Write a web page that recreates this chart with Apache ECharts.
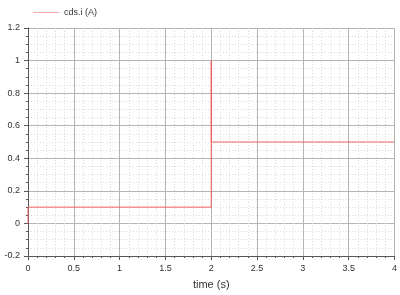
<!DOCTYPE html>
<html><head><meta charset="utf-8">
<script src="https://cdn.jsdelivr.net/npm/echarts@6/dist/echarts.min.js"></script>
<style>html,body{margin:0;padding:0;background:#fff}#c{width:400px;height:295px}</style>
</head><body><div id="c"></div>
<script>
var seriesName = 'cds.i (A)';
var timeValues = [0, 0, 2, 2, 2, 4];
var currentValues = [0, 0.1, 0.1, 1, 0.5, 0.5];
var xTicks = [0, 0.5, 1, 1.5, 2, 2.5, 3, 3.5, 4];
var yTicks = [-0.2, 0, 0.2, 0.4, 0.6, 0.8, 1, 1.2];
var xTitle = 'time (s)';

var data = timeValues.map(function (t, i) { return [t, currentValues[i]]; });
var chart = echarts.init(document.getElementById('c'), null, {renderer: 'canvas'});
var font = 'Liberation Sans, Arial, sans-serif';
chart.setOption({
  animation: false,
  textStyle: {fontFamily: font},
  legend: {
    left: 28, top: 3, itemWidth: 26, itemHeight: 2, itemGap: 5,
    icon: 'path://M0,0L26,0L26,1L0,1Z',
    textStyle: {fontSize: 9, color: '#333', fontFamily: font},
    data: [seriesName]
  },
  grid: {left: 28, right: 5, top: 28, bottom: 36, containLabel: false},
  xAxis: {
    type: 'value', min: xTicks[0], max: xTicks[xTicks.length - 1], interval: 0.5,
    name: xTitle, nameLocation: 'middle', nameGap: 23,
    nameTextStyle: {fontSize: 11, color: '#333', fontFamily: font},
    axisLine: {show: true, onZero: false, lineStyle: {color: '#555', width: 1}},
    axisTick: {show: true, length: 4, lineStyle: {color: '#555'}},
    minorTick: {show: true, splitNumber: 5, length: 2, lineStyle: {color: '#555'}},
    axisLabel: {fontSize: 9, color: '#333', margin: 8},
    splitLine: {show: true, lineStyle: {color: '#b4b4b4', width: 1}},
    minorSplitLine: {show: true, lineStyle: {color: '#dadada', type: [1, 2], width: 1}}
  },
  yAxis: {
    type: 'value', min: yTicks[0], max: yTicks[yTicks.length - 1], interval: 0.2,
    axisLine: {show: true, onZero: false, lineStyle: {color: '#555', width: 1}},
    axisTick: {show: true, length: 4, lineStyle: {color: '#555'}},
    minorTick: {show: true, splitNumber: 4, length: 2, lineStyle: {color: '#555'}},
    axisLabel: {fontSize: 9, color: '#333', margin: 8,
      formatter: function (v) { return String(Math.round(v * 10) / 10); }},
    splitLine: {show: true, lineStyle: {color: '#b4b4b4', width: 1}},
    minorSplitLine: {show: true, lineStyle: {color: '#dadada', type: [1, 2], width: 1}}
  },
  series: [{
    name: seriesName, type: 'line', data: data, symbol: 'none',
    lineStyle: {color: '#f06060', width: 1}, itemStyle: {color: '#f6a8a8'}
  }]
});
</script></body></html>
